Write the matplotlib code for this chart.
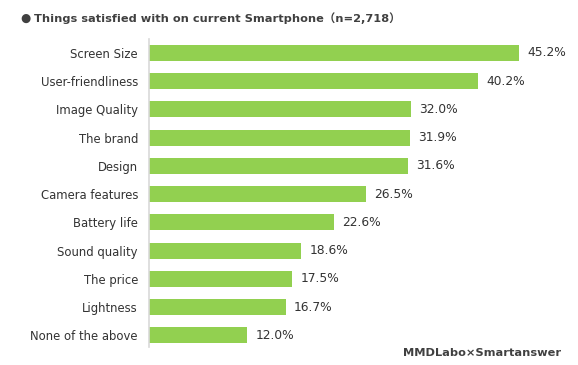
import matplotlib.pyplot as plt

categories = ['Screen Size', 'User-friendliness', 'Image Quality', 'The brand',
              'Design', 'Camera features', 'Battery life', 'Sound quality',
              'The price', 'Lightness', 'None of the above']
values = [45.2, 40.2, 32.0, 31.9, 31.6, 26.5, 22.6, 18.6, 17.5, 16.7, 12.0]

fig = plt.figure(figsize=(5.78, 3.65), dpi=100)
ax = fig.add_axes([149/578, 1 - 349.5/365, 409.5/578, 310.75/365])

ypos = list(range(len(categories)))
ax.barh(ypos, values, height=0.56, color='#92D050')
ax.set_ylim(len(categories) - 0.5, -0.5)
ax.set_xlim(0, 50)

for y, v in zip(ypos, values):
    ax.text(v + 1.0, y, f'{v:.1f}%', va='center', ha='left', fontsize=8.8, color='#333333')

ax.set_yticks(ypos)
ax.set_yticklabels(categories, fontsize=8.4, color='#333333')
ax.tick_params(axis='y', length=0, pad=8)
ax.set_xticks([])
for s in ['top', 'right', 'bottom']:
    ax.spines[s].set_visible(False)
ax.spines['left'].set_color('#d9d9d9')
ax.spines['left'].set_linewidth(1.2)
ax.spines['left'].set_bounds(len(categories) - 0.6, -0.5)

fig.text(20/578, 1 - 18/365, '\u25cf', fontsize=8.5, color='#404040', va='center', ha='left')
fig.text(34/578, 1 - 18/365, 'Things satisfied with on current Smartphone\uff08n=2,718\uff09',
         fontsize=8.2, fontweight='bold', color='#404040', va='center', ha='left',
         family=['DejaVu Sans', 'Noto Sans CJK JP'])
fig.text(561/578, 1 - 353/365, 'MMDLabo\u00d7Smartanswer', fontsize=8.2, fontweight='bold',
         color='#404040', va='center', ha='right')

fig.savefig('out.png', dpi=100)
